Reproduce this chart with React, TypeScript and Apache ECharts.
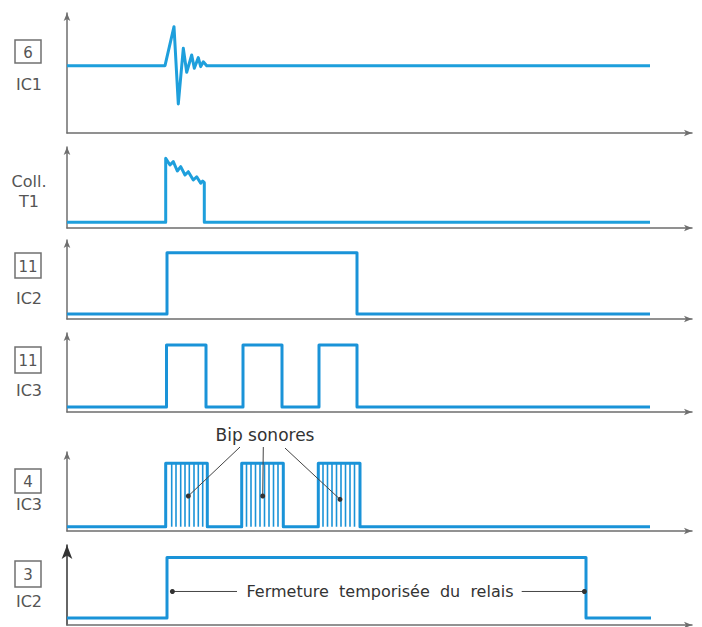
import React, { useEffect, useRef } from "react";
import * as echarts from "echarts";

// ---- data (time units along x, level units 0..10 along y) ----
const X_MAX = 125;
const Y_MAX = 10;

// Panel 1 : pin 6 IC1 (damped oscillation)
const IC1_T = [0, 19.6, 21.4, 22.26, 23.26, 23.94, 24.94, 25.46, 26.26, 26.74, 27.26, 27.94, 116.6];
const IC1_V = [5.61, 5.61, 8.86, 2.42, 7.06, 5.06, 6.5, 5.39, 6.28, 5.53, 5.94, 5.61, 5.61];

// Panel 2 : collector T1
const T1_T = [0, 19.74, 19.74, 20.6, 21.26, 22.06, 22.74, 23.6, 24.26, 25.26, 25.94, 26.74, 27.14, 27.46, 27.46, 116.6];
const T1_V = [0.7, 0.7, 8.6, 7.78, 8.19, 7.04, 7.57, 6.54, 6.95, 5.93, 6.33, 5.52, 5.8, 5.6, 0.7, 0.7];

// Panel 3 : pin 11 IC2
const IC2_11_PULSES = [[20, 58]];
const IC2_11_LEVELS = [0.63, 8.39];

// Panel 4 : pin 11 IC3
const IC3_11_PULSES = [[19.9, 27.8], [35.2, 43], [50.4, 58]];
const IC3_11_LEVELS = [0.63, 8.48];

// Panel 5 : pin 4 IC3 (bursts)
const IC3_4_BURSTS = [[19.74, 28.06], [34.94, 43.26], [50.26, 58.6]];
const IC3_4_LEVELS = [0.54, 8.57];
const IC3_4_STRIPES = [
  20.94, 21.8, 22.74, 23.6, 24.46, 25.4, 26.26, 27.14,
  35.9, 36.8, 37.7, 38.6, 39.5, 40.4, 41.3, 42.2,
  51.2, 52.1, 53.0, 53.9, 54.8, 55.7, 56.6, 57.5,
];

// Panel 6 : pin 3 IC2
const IC2_3_PULSES = [[20, 103.8]];
const IC2_3_LEVELS = [0.875, 8.44];
const IC2_3_END = 116.8;

const SIGNAL_END = 116.6;

// Annotations (data coords in their panel)
const BIP_POINTERS = [
  [[34.6, 10.63], [24.26, 4.43]],
  [[39.26, 10.63], [39.14, 4.43]],
  [[43.6, 10.5], [54.6, 4.01]],
];
const RELAIS_ARROWS = [
  [[34, 4.19], [21.08, 4.19]],
  [[90.94, 4.19], [103.48, 4.19]],
];

// Panel labels
const PANEL_NUMBERS = ["6", "", "11", "11", "4", "3"];
const PANEL_NAMES = [["IC1"], ["Coll.", "T1"], ["IC2"], ["IC3"], ["IC3"], ["IC2"]];

// ---- layout ----
const GRIDS = [
  { top: 13, height: 120 },
  { top: 147, height: 81 },
  { top: 240, height: 79 },
  { top: 333, height: 79 },
  { top: 452, height: 79 },
  { top: 545, height: 80 },
];
const BOXES = [
  { y: 40, h: 23 },
  null,
  { y: 253, h: 25 },
  { y: 347, h: 26 },
  { y: 469, h: 24 },
  { y: 561, h: 26 },
];
const NAME_Y = [[84], [181, 201], [298], [390], [504], [601]];

const BLUE = "#1e9fdc";
const BLUE2 = "#1a93d8";
const AXIS = "#6e6e6e";
const TEXT = "#555555";

function zip(t: number[], v: number[]) {
  return t.map((x, i) => [x, v[i]]);
}
function pulseTrain(pulses: number[][], levels: number[], end: number) {
  const [lo, hi] = levels;
  const pts: number[][] = [[0, lo]];
  pulses.forEach(([a, b]) => {
    pts.push([a, lo], [a, hi], [b, hi], [b, lo]);
  });
  pts.push([end, lo]);
  return pts;
}

export default function App() {
  const ref = useRef<HTMLDivElement>(null);
  useEffect(() => {
    if (!ref.current) return;
    const chart = echarts.init(ref.current, undefined, { renderer: "svg" });

    const grid = GRIDS.map((g) => ({ left: 67, width: 625, top: g.top, height: g.height }));
    const xAxis = GRIDS.map((_, i) => ({
      type: "value",
      gridIndex: i,
      min: 0,
      max: X_MAX,
      axisLine: {
        show: true,
        onZero: false,
        symbol: ["none", "arrow"],
        symbolSize: [5, 8],
        lineStyle: { color: AXIS, width: 1.5 },
      },
      axisTick: { show: false },
      axisLabel: { show: false },
      splitLine: { show: false },
    }));
    const yAxis = GRIDS.map((_, i) => ({
      type: "value",
      gridIndex: i,
      min: 0,
      max: Y_MAX,
      axisLine: {
        show: true,
        onZero: false,
        symbol: ["none", "arrow"],
        symbolSize: i === 5 ? [8, 14] : [5, 8],
        lineStyle: { color: i === 5 ? "#333" : AXIS, width: 1.5 },
      },
      axisTick: { show: false },
      axisLabel: { show: false },
      splitLine: { show: false },
    }));

    const lineSeries = (idx: number, data: number[][], color: string) => ({
      type: "line",
      xAxisIndex: idx,
      yAxisIndex: idx,
      data,
      showSymbol: false,
      symbol: "none",
      lineStyle: { color, width: 3, join: "round" },
      silent: true,
    });

    const pointer = (idx: number, seg: number[][]) => ({
      type: "line",
      xAxisIndex: idx,
      yAxisIndex: idx,
      clip: false,
      data: seg.map((p, j) => ({
        value: p,
        symbol: j === 1 ? "circle" : "none",
        symbolSize: j === 1 ? 5 : 0,
      })),
      showSymbol: true,
      itemStyle: { color: "#333" },
      lineStyle: { color: "#444", width: 1 },
      silent: true,
      z: 5,
    });

    const series: any[] = [
      lineSeries(0, zip(IC1_T, IC1_V), BLUE),
      lineSeries(1, zip(T1_T, T1_V), BLUE),
      lineSeries(2, pulseTrain(IC2_11_PULSES, IC2_11_LEVELS, SIGNAL_END), BLUE2),
      lineSeries(3, pulseTrain(IC3_11_PULSES, IC3_11_LEVELS, SIGNAL_END), BLUE2),
      lineSeries(4, pulseTrain(IC3_4_BURSTS, IC3_4_LEVELS, SIGNAL_END), BLUE2),
      {
        type: "custom",
        xAxisIndex: 4,
        yAxisIndex: 4,
        data: IC3_4_STRIPES.map((t) => [t, IC3_4_LEVELS[0], IC3_4_LEVELS[1]]),
        encode: { x: 0, y: [1, 2] },
        renderItem: (_p: any, api: any) => {
          const a = api.coord([api.value(0), api.value(1)]);
          const b = api.coord([api.value(0), api.value(2)]);
          return {
            type: "line",
            shape: { x1: a[0], y1: a[1], x2: b[0], y2: b[1] },
            style: { stroke: BLUE2, lineWidth: 1.6 },
          };
        },
        silent: true,
      },
      lineSeries(5, pulseTrain(IC2_3_PULSES, IC2_3_LEVELS, IC2_3_END), BLUE2),
      ...BIP_POINTERS.map((seg) => pointer(4, seg)),
      ...RELAIS_ARROWS.map((seg) => pointer(5, seg)),
    ];

    const graphic: any[] = [];
    BOXES.forEach((b, i) => {
      if (b) {
        graphic.push({
          type: "rect",
          shape: { x: 15, y: b.y, width: 26, height: b.h },
          style: { fill: "none", stroke: "#707070", lineWidth: 1.5 },
        });
        graphic.push({
          type: "text",
          x: 28,
          y: b.y + b.h / 2 + 1,
          style: {
            text: PANEL_NUMBERS[i],
            fill: TEXT,
            font: "15px 'DejaVu Sans'",
            align: "center",
            verticalAlign: "middle",
          },
        });
      }
      PANEL_NAMES[i].forEach((name, j) => {
        graphic.push({
          type: "text",
          x: 29,
          y: NAME_Y[i][j],
          style: {
            text: name,
            fill: TEXT,
            font: "16px 'DejaVu Sans'",
            align: "center",
            verticalAlign: "middle",
          },
        });
      });
    });
    graphic.push({
      type: "text",
      x: 265,
      y: 435,
      style: {
        text: "Bip sonores",
        fill: "#333",
        font: "17px 'DejaVu Sans'",
        align: "center",
        verticalAlign: "middle",
      },
    });
    graphic.push({
      type: "text",
      x: 380,
      y: 591,
      style: {
        text: "Fermeture  temporisée  du  relais",
        fill: "#333",
        font: "16px 'DejaVu Sans'",
        align: "center",
        verticalAlign: "middle",
      },
    });

    chart.setOption({
      animation: false,
      backgroundColor: "#ffffff",
      grid,
      xAxis,
      yAxis,
      series,
      graphic,
    } as any);
    return () => chart.dispose();
  }, []);
  return (
    <div
      ref={ref}
      style={{ position: "absolute", left: 0, top: 0, width: 702, height: 627 }}
    />
  );
}
